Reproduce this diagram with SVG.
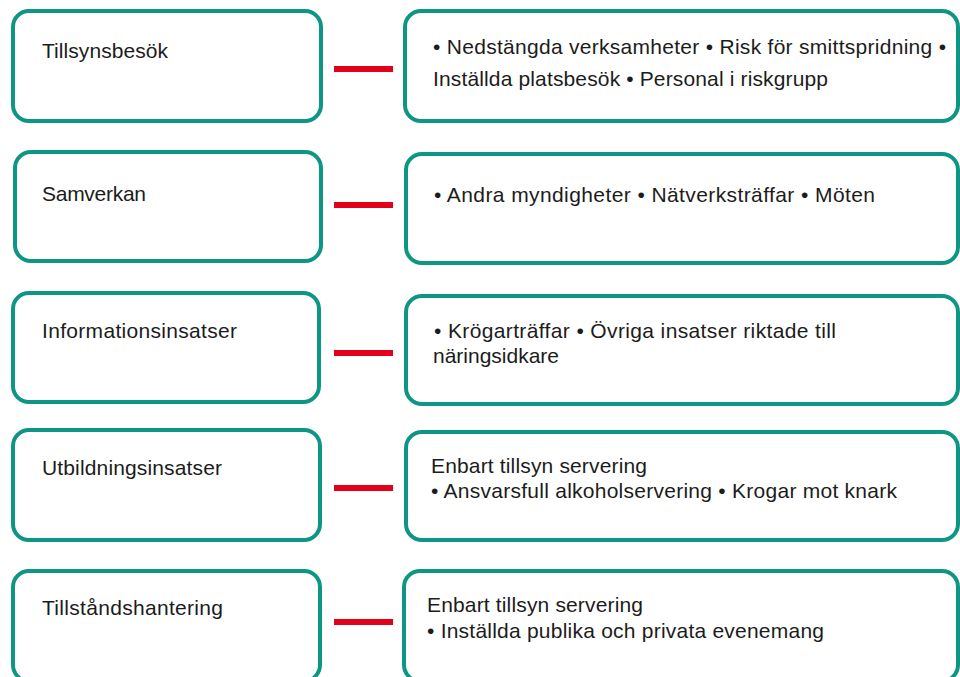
<svg xmlns="http://www.w3.org/2000/svg" width="960" height="677" viewBox="0 0 960 677">
<style>
.box{fill:#fff;stroke:#0E9684;stroke-width:4}
.t{font-family:"Liberation Sans",Arial,sans-serif;font-size:21px;fill:#1c1c1c}
.con{stroke:#E2001A;stroke-width:6;fill:none}
</style>
<rect width="960" height="677" fill="#fff"/>
<g id="connectors">
<line class="con" x1="334" y1="69" x2="393" y2="69"/>
<line class="con" x1="334" y1="205" x2="393" y2="205"/>
<line class="con" x1="334" y1="353" x2="393" y2="353"/>
<line class="con" x1="334" y1="488" x2="393" y2="488"/>
<line class="con" x1="334" y1="622" x2="393" y2="622"/>
</g>
<g id="n1"><rect class="box" x="13" y="11" width="308" height="110" rx="16"/><text class="t" x="42" y="58" textLength="126">Tillsynsbesök</text></g>
<g id="n1d"><rect class="box" x="405" y="11" width="553" height="110" rx="16"/><text class="t" x="433" y="54" textLength="513">• Nedstängda verksamheter • Risk för smittspridning •</text><text class="t" x="433" y="86" textLength="395">Inställda platsbesök • Personal i riskgrupp</text></g>
<g id="n2"><rect class="box" x="15" y="152" width="306" height="109" rx="16"/><text class="t" x="42" y="201" textLength="104">Samverkan</text></g>
<g id="n2d"><rect class="box" x="406" y="154" width="552" height="109" rx="16"/><text class="t" x="434" y="202" textLength="441">• Andra myndigheter • Nätverksträffar • Möten</text></g>
<g id="n3"><rect class="box" x="13" y="293" width="306" height="109" rx="16"/><text class="t" x="42" y="338" textLength="195">Informationsinsatser</text></g>
<g id="n3d"><rect class="box" x="406" y="296" width="552" height="108" rx="16"/><text class="t" x="434" y="338" textLength="402">• Krögarträffar • Övriga insatser riktade till</text><text class="t" x="433" y="363" textLength="126">näringsidkare</text></g>
<g id="n4"><rect class="box" x="13" y="430" width="307" height="110" rx="16"/><text class="t" x="42" y="475" textLength="180">Utbildningsinsatser</text></g>
<g id="n4d"><rect class="box" x="406" y="432" width="552" height="108" rx="16"/><text class="t" x="431" y="473" textLength="216">Enbart tillsyn servering</text><text class="t" x="431" y="498" textLength="466">• Ansvarsfull alkoholservering • Krogar mot knark</text></g>
<g id="n5"><rect class="box" x="13" y="571" width="307" height="110" rx="16"/><text class="t" x="42" y="615" textLength="181">Tillståndshantering</text></g>
<g id="n5d"><rect class="box" x="404" y="571" width="554" height="110" rx="16"/><text class="t" x="427" y="612" textLength="216">Enbart tillsyn servering</text><text class="t" x="427" y="638" textLength="397">• Inställda publika och privata evenemang</text></g>
</svg>
